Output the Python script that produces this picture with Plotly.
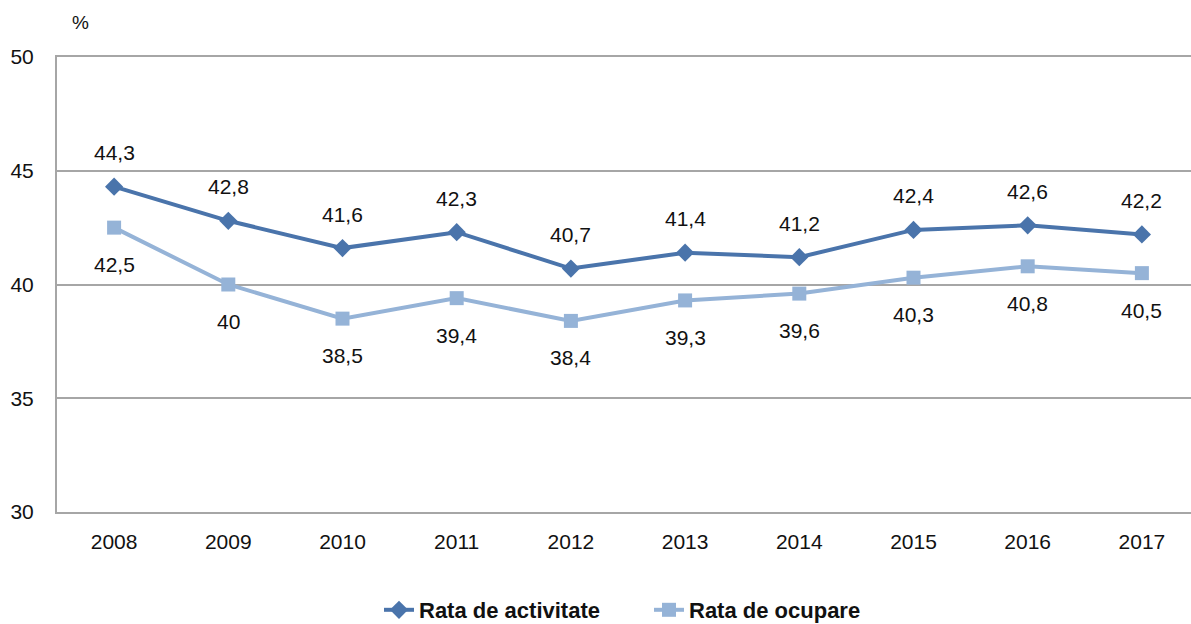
import plotly.graph_objects as go

years = ["2008", "2009", "2010", "2011", "2012", "2013", "2014", "2015", "2016", "2017"]
activitate = [44.3, 42.8, 41.6, 42.3, 40.7, 41.4, 41.2, 42.4, 42.6, 42.2]
ocupare = [42.5, 40.0, 38.5, 39.4, 38.4, 39.3, 39.6, 40.3, 40.8, 40.5]
y_ticks = [30, 35, 40, 45, 50]

def fmt(v):
    s = ("%.1f" % v).rstrip("0").rstrip(".")
    return s.replace(".", ",")

FONT = "Liberation Sans, Arial, sans-serif"
TXT = "#111111"
DARK = "#4A74AB"
LIGHT = "#95B3D7"
x_idx = list(range(len(years)))

fig = go.Figure()
fig.add_trace(go.Scatter(
    x=x_idx, y=activitate, name="<b>Rata de activitate</b>", mode="lines+markers",
    line=dict(color=DARK, width=4),
    marker=dict(symbol="diamond", size=14, color=DARK),
    cliponaxis=False,
))
fig.add_trace(go.Scatter(
    x=x_idx, y=ocupare, name="<b>Rata de ocupare</b>", mode="lines+markers",
    line=dict(color=LIGHT, width=4),
    marker=dict(symbol="square", size=14, color=LIGHT),
    cliponaxis=False,
))

annotations = []
for i, v in zip(x_idx, activitate):
    annotations.append(dict(x=i, y=v, xref="x", yref="y", text=fmt(v), showarrow=False,
                            yshift=34, font=dict(family=FONT, size=21, color=TXT)))
for i, v in zip(x_idx, ocupare):
    annotations.append(dict(x=i, y=v, xref="x", yref="y", text=fmt(v), showarrow=False,
                            yshift=-37, font=dict(family=FONT, size=21, color=TXT)))
annotations.append(dict(text="%", xref="paper", yref="paper", x=(80 - 57) / 1134, y=1 + (57 - 22) / 455,
                        xanchor="center", yanchor="middle", showarrow=False,
                        font=dict(family=FONT, size=19, color=TXT)))

fig.update_layout(
    width=1191, height=624,
    margin=dict(l=57, r=0, t=57, b=112, autoexpand=False),
    paper_bgcolor="white", plot_bgcolor="white",
    font=dict(family=FONT, size=21, color=TXT),
    showlegend=True,
    legend=dict(orientation="h", x=(649 - 57) / 1134, xanchor="center", y=-(610 - 512) / 455, yanchor="middle",
                font=dict(family=FONT, size=22, color=TXT), entrywidth=225, entrywidthmode="pixels"),
    annotations=annotations,
)
fig.update_xaxes(
    range=[-0.5, 9.43], tickmode="array", tickvals=x_idx, ticktext=years,
    showgrid=False, showline=True, mirror=True, linecolor="#A6A6A6", linewidth=2,
    zeroline=False, ticks="", ticklabelstandoff=10,
    tickfont=dict(family=FONT, size=21, color=TXT),
)
fig.update_yaxes(
    range=[30, 50], tickvals=y_ticks, showgrid=True, gridcolor="#A6A6A6", gridwidth=2,
    showline=True, linecolor="#A6A6A6", linewidth=2, zeroline=False, ticks="",
    ticklabelstandoff=17,
    tickfont=dict(family=FONT, size=21, color=TXT),
)
fig.write_html("out.html", config={"displayModeBar": False},
               post_script="document.body.style.margin='0';document.body.style.overflow='hidden';")
